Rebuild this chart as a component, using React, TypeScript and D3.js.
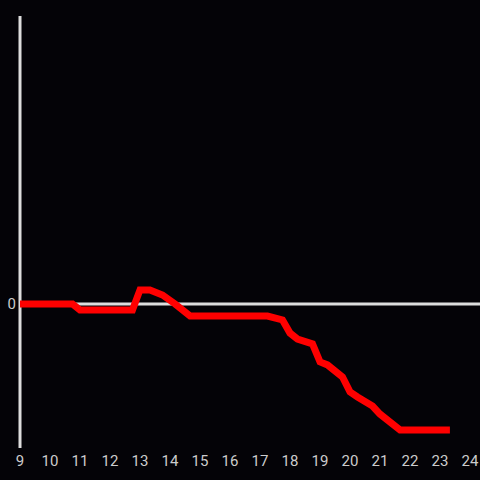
import React from "react";
import * as d3 from "d3";

const hours = [9, 10.75, 11, 12.75, 13, 13.33, 13.75, 14.17, 14.67, 17.25, 17.75, 18, 18.25, 18.75, 19, 19.25, 19.75, 20, 20.25, 20.75, 21, 21.67, 23.33];
const values = [0, 0, -0.2, -0.2, 0.47, 0.47, 0.3, 0, -0.4, -0.4, -0.53, -0.97, -1.17, -1.33, -1.93, -2.03, -2.43, -2.93, -3.1, -3.4, -3.67, -4.2, -4.2];
const xTicks = [9, 10, 11, 12, 13, 14, 15, 16, 17, 18, 19, 20, 21, 22, 23, 24];
const yTicks = [0];

const W = 480;
const H = 480;

export default function App() {
  const x = d3.scaleLinear().domain([9, 24]).range([20, 470]);
  const y = d3.scaleLinear().domain([-4.8, 9.6]).range([448, 16]);
  const pts: [number, number][] = hours.map((h, i) => [h, values[i]]);
  const line = d3
    .line<[number, number]>()
    .x((d) => x(d[0]))
    .y((d) => y(d[1]));
  const font = "Roboto, 'Liberation Sans', Arial, sans-serif";
  return (
    <svg
      width={W}
      height={H}
      style={{ position: "fixed", left: 0, top: 0, display: "block", background: "#040307" }}
    >
      <rect x={0} y={0} width={W} height={H} fill="#040307" />
      <line x1={x(9)} x2={x(9)} y1={16} y2={448} stroke="#dddddd" strokeWidth={3} />
      <line x1={x(9)} x2={480} y1={y(0)} y2={y(0)} stroke="#dddddd" strokeWidth={3} />
      <path d={line(pts) || ""} fill="none" stroke="#ff0000" strokeWidth={7} strokeLinejoin="miter" strokeLinecap="butt" />
      {yTicks.map((t) => (
        <text key={t} x={16} y={y(t)} dy="0.35em" textAnchor="end" fill="#cccccc" fontSize={15} fontFamily={font}>
          {t}
        </text>
      ))}
      {xTicks.map((t) => (
        <text key={t} x={x(t)} y={466} textAnchor="middle" fill="#cccccc" fontSize={15} fontFamily={font}>
          {t}
        </text>
      ))}
    </svg>
  );
}
